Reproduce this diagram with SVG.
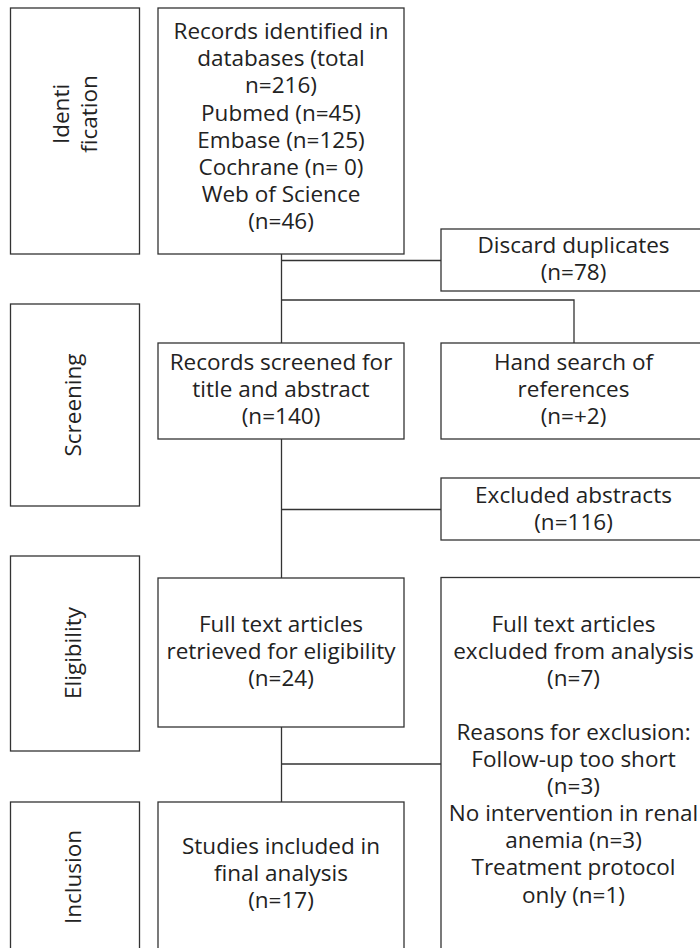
<svg xmlns="http://www.w3.org/2000/svg" width="700" height="948" viewBox="0 0 700 948">
<style>
.box{fill:#fff;stroke:#333;stroke-width:1.3}
.conn{fill:none;stroke:#333;stroke-width:1.3}
text{font-family:"Open Sans","Noto Sans","DejaVu Sans",sans-serif;font-size:22.5px;fill:#222;text-anchor:middle}
</style>
<rect width="700" height="948" fill="#fff"/>
<g id="connectors">
<path class="conn" d="M281.5 254V343M281.5 260.5H441M281.5 300H574V343M281.5 439V578M281.5 509.5H441M281.5 727V802M281.5 764H441"/>
</g>
<g id="stage-identification">
<rect class="box" x="10.5" y="8" width="129" height="246"/>
<text transform="translate(69,114) rotate(-90)">Identi</text>
<text transform="translate(96.5,114) rotate(-90)">fication</text>
</g>
<g id="stage-screening">
<rect class="box" x="10.5" y="304" width="129" height="202"/>
<text transform="translate(81,405) rotate(-90)">Screening</text>
</g>
<g id="stage-eligibility">
<rect class="box" x="10.5" y="556" width="129" height="195"/>
<text transform="translate(81,653) rotate(-90)">Eligibility</text>
</g>
<g id="stage-inclusion">
<rect class="box" x="10.5" y="802" width="129" height="160"/>
<text transform="translate(81,877) rotate(-90)">Inclusion</text>
</g>
<g id="records-identified">
<rect class="box" x="158" y="8" width="246" height="246"/>
<text x="281" y="39">Records identified in</text>
<text x="281" y="66.2">databases (total</text>
<text x="281" y="93.4">n=216)</text>
<text x="281" y="120.6">Pubmed (n=45)</text>
<text x="281" y="147.8">Embase (n=125)</text>
<text x="281" y="175">Cochrane (n= 0)</text>
<text x="281" y="202.2">Web of Science</text>
<text x="281" y="229.4">(n=46)</text>
</g>
<g id="discard-duplicates">
<rect class="box" x="441" y="229" width="265" height="62"/>
<text x="573.5" y="253">Discard duplicates</text>
<text x="573.5" y="280">(n=78)</text>
</g>
<g id="records-screened">
<rect class="box" x="158" y="343" width="246" height="96"/>
<text x="281" y="369.5">Records screened for</text>
<text x="281" y="396.8">title and abstract</text>
<text x="281" y="424">(n=140)</text>
</g>
<g id="hand-search">
<rect class="box" x="441" y="343" width="265" height="96"/>
<text x="573.5" y="369.5">Hand search of</text>
<text x="573.5" y="396.8">references</text>
<text x="573.5" y="424">(n=+2)</text>
</g>
<g id="excluded-abstracts">
<rect class="box" x="441" y="478" width="265" height="62"/>
<text x="573.5" y="502.5">Excluded abstracts</text>
<text x="573.5" y="529.5">(n=116)</text>
</g>
<g id="full-text-retrieved">
<rect class="box" x="158" y="578" width="246" height="149"/>
<text x="281" y="631.5">Full text articles</text>
<text x="281" y="658.6">retrieved for eligibility</text>
<text x="281" y="685.7">(n=24)</text>
</g>
<g id="full-text-excluded">
<rect class="box" x="441" y="577.5" width="265" height="390"/>
<text x="573.5" y="631.5">Full text articles</text>
<text x="573.5" y="658.6">excluded from analysis</text>
<text x="573.5" y="685.7">(n=7)</text>
<text x="573.5" y="739.9">Reasons for exclusion:</text>
<text x="573.5" y="767">Follow-up too short</text>
<text x="573.5" y="794.1">(n=3)</text>
<text x="573.5" y="821.2">No intervention in renal</text>
<text x="573.5" y="848.3">anemia (n=3)</text>
<text x="573.5" y="875.4">Treatment protocol</text>
<text x="573.5" y="902.5">only (n=1)</text>
</g>
<g id="studies-included">
<rect class="box" x="158" y="802" width="246" height="160"/>
<text x="281" y="854">Studies included in</text>
<text x="281" y="881">final analysis</text>
<text x="281" y="908">(n=17)</text>
</g>
</svg>
